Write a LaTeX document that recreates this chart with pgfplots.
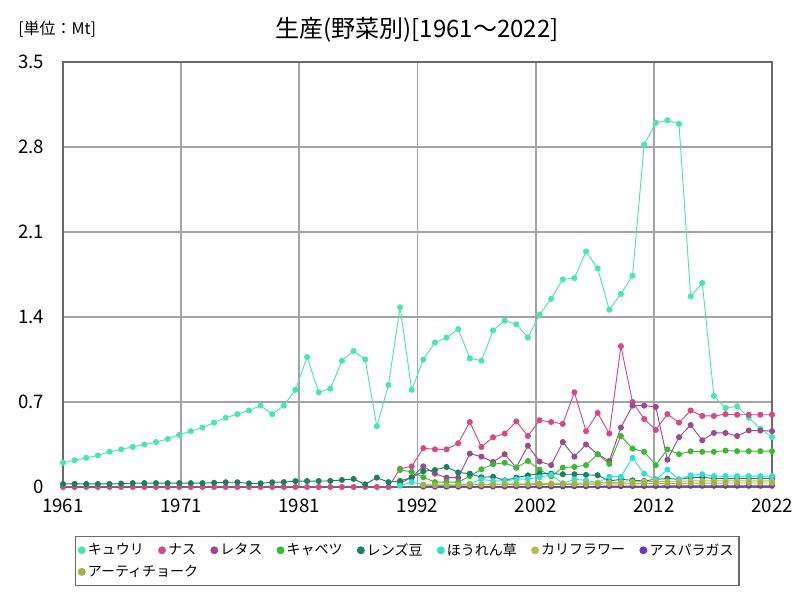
\documentclass[border=0pt]{standalone}
\usepackage{fontspec}
\setmainfont{Noto Sans CJK JP}
\usepackage{pgfplots}
\pgfplotsset{compat=1.18}

\definecolor{cKyuri}{HTML}{48E6B0}
\definecolor{cNasu}{HTML}{D4488C}
\definecolor{cRetasu}{HTML}{9A4A8E}
\definecolor{cKyabetsu}{HTML}{3CB832}
\definecolor{cRenzu}{HTML}{1A8060}
\definecolor{cHoren}{HTML}{30E0D8}
\definecolor{cKarifura}{HTML}{B0BC58}
\definecolor{cAsupara}{HTML}{6A38B8}
\definecolor{cAti}{HTML}{A8B040}
\definecolor{gridgray}{HTML}{A4A4A4}
\definecolor{framegray}{HTML}{6A6A6A}

\begin{document}
\begin{tikzpicture}
\path (0,0) rectangle (600pt,450pt);
\node[anchor=west, inner sep=0pt, font=\fontsize{12}{14}\selectfont] at (13.5pt,428pt) {[単位：Mt]};
\node[inner sep=0pt, font=\fontsize{18}{20}\selectfont] at (312.75pt,428pt) {生産(野菜別)[1961～2022]};
\begin{axis}[
  at={(47.25pt,84.75pt)}, anchor=south west,
  scale only axis, width=531.75pt, height=318.75pt,
  xmin=1961, xmax=2022, ymin=0, ymax=3.5,
  xtick={1961,1971.1667,1981.3333,1991.5,2001.6667,2011.8333,2022},
  xticklabels={1961,1971,1981,1992,2002,2012,2022},
  ytick={0,0.7,1.4,2.1,2.8,3.5},
  yticklabels={0,0.7,1.4,2.1,2.8,3.5},
  /pgf/number format/assume math mode=true,
  ticklabel style={font=\fontsize{14}{16}\selectfont},
  xticklabel style={anchor=north, inner sep=0pt, yshift=-9pt},
  yticklabel style={anchor=east, inner sep=0pt, xshift=-14pt},
  major tick length=0pt,
  grid=major,
  major grid style={gridgray, line width=1.4pt},
  axis line style={framegray, line width=1.6pt},
  every axis plot/.append style={line width=0.7pt, mark=*, mark size=1.9pt},
  legend columns=8,
  legend style={at={(axis description cs:0.0169,-0.1153)}, anchor=north west,
    draw=framegray, line width=1pt, font=\fontsize{10.5}{12}\selectfont,
    inner xsep=2pt, inner ysep=3pt, row sep=2pt,
    /tikz/every even column/.append style={column sep=9pt}},
  legend cell align=left,
  legend image code/.code={\draw[mark size=2.6pt] plot coordinates {(0.08cm,0cm)};},
]
\addplot[cKyuri] coordinates {
(1961,0.20) (1962,0.22) (1963,0.24) (1964,0.26) (1965,0.29) (1966,0.31) (1967,0.33) (1968,0.35)
(1969,0.37) (1970,0.395) (1971,0.43) (1972,0.46) (1973,0.49) (1974,0.53) (1975,0.57) (1976,0.60)
(1977,0.63) (1978,0.67) (1979,0.60) (1980,0.67) (1981,0.80) (1982,1.07) (1983,0.78) (1984,0.81)
(1985,1.04) (1986,1.12) (1987,1.05) (1988,0.50) (1989,0.84) (1990,1.48) (1991,0.80) (1992,1.05)
(1993,1.19) (1994,1.23) (1995,1.30) (1996,1.06) (1997,1.04) (1998,1.29) (1999,1.37) (2000,1.34)
(2001,1.23) (2002,1.42) (2003,1.55) (2004,1.71) (2005,1.72) (2006,1.94) (2007,1.80) (2008,1.46)
(2009,1.59) (2010,1.74) (2011,2.82) (2012,3.00) (2013,3.02) (2014,2.99) (2015,1.57) (2016,1.68)
(2017,0.75) (2018,0.65) (2019,0.665) (2020,0.57) (2021,0.48) (2022,0.41)
};
\addlegendentry{キュウリ}
\addplot[cNasu] coordinates {
(1961,0) (1962,0) (1963,0) (1964,0) (1965,0) (1966,0) (1967,0) (1968,0) (1969,0) (1970,0)
(1971,0) (1972,0) (1973,0) (1974,0) (1975,0) (1976,0) (1977,0) (1978,0) (1979,0) (1980,0)
(1981,0) (1982,0) (1983,0) (1984,0) (1985,0) (1986,0) (1987,0) (1988,0) (1989,0)
(1990,0.15) (1991,0.17) (1992,0.32) (1993,0.31) (1994,0.31) (1995,0.36) (1996,0.535) (1997,0.33)
(1998,0.41) (1999,0.44) (2000,0.54) (2001,0.42) (2002,0.55) (2003,0.535) (2004,0.52) (2005,0.78)
(2006,0.46) (2007,0.61) (2008,0.44) (2009,1.16) (2010,0.70) (2011,0.56) (2012,0.47) (2013,0.60)
(2014,0.53) (2015,0.63) (2016,0.585) (2017,0.585) (2018,0.60) (2019,0.595) (2020,0.595)
(2021,0.595) (2022,0.595)
};
\addlegendentry{ナス}
\addplot[cRetasu] coordinates {
(1990,0.03) (1991,0.08) (1992,0.17) (1993,0.11) (1994,0.077) (1995,0.077) (1996,0.275) (1997,0.25)
(1998,0.206) (1999,0.27) (2000,0.16) (2001,0.34) (2002,0.21) (2003,0.18) (2004,0.37) (2005,0.25)
(2006,0.35) (2007,0.27) (2008,0.214) (2009,0.49) (2010,0.67) (2011,0.67) (2012,0.66) (2013,0.225)
(2014,0.41) (2015,0.51) (2016,0.385) (2017,0.445) (2018,0.445) (2019,0.42) (2020,0.465)
(2021,0.465) (2022,0.46)
};
\addlegendentry{レタス}
\addplot[cKyabetsu] coordinates {
(1990,0.14) (1991,0.125) (1992,0.08) (1993,0.04) (1994,0.04) (1995,0.04) (1996,0.09) (1997,0.146)
(1998,0.187) (1999,0.20) (2000,0.16) (2001,0.214) (2002,0.143) (2003,0.088) (2004,0.16) (2005,0.165)
(2006,0.18) (2007,0.27) (2008,0.19) (2009,0.42) (2010,0.316) (2011,0.29) (2012,0.18) (2013,0.31)
(2014,0.27) (2015,0.294) (2016,0.29) (2017,0.29) (2018,0.30) (2019,0.295) (2020,0.295)
(2021,0.295) (2022,0.295)
};
\addlegendentry{キャベツ}
\addplot[cRenzu] coordinates {
(1961,0.025) (1962,0.025) (1963,0.025) (1964,0.025) (1965,0.025) (1966,0.028) (1967,0.032) (1968,0.032)
(1969,0.032) (1970,0.032) (1971,0.032) (1972,0.032) (1973,0.032) (1974,0.035) (1975,0.039) (1976,0.039)
(1977,0.03) (1978,0.03) (1979,0.039) (1980,0.04) (1981,0.049) (1982,0.049) (1983,0.049) (1984,0.05)
(1985,0.058) (1986,0.066) (1987,0.022) (1988,0.077) (1989,0.04) (1990,0.05) (1991,0.077) (1992,0.13)
(1993,0.14) (1994,0.165) (1995,0.12) (1996,0.11) (1997,0.08) (1998,0.085) (1999,0.055) (2000,0.077)
(2001,0.096) (2002,0.11) (2003,0.11) (2004,0.105) (2005,0.105) (2006,0.10) (2007,0.097) (2008,0.05)
(2009,0.063) (2010,0.055) (2011,0.05) (2012,0.063) (2013,0.07) (2014,0.063) (2015,0.077) (2016,0.08)
(2017,0.07) (2018,0.07) (2019,0.07) (2020,0.07) (2021,0.07) (2022,0.07)
};
\addlegendentry{レンズ豆}
\addplot[cHoren] coordinates {
(1990,0.01) (1991,0.04) (1992,0.02) (1993,0.015) (1994,0.015) (1995,0.015) (1996,0.028) (1997,0.063)
(1998,0.05) (1999,0.05) (2000,0.063) (2001,0.066) (2002,0.08) (2003,0.10) (2004,0.03) (2005,0.063)
(2006,0.055) (2007,0.035) (2008,0.085) (2009,0.085) (2010,0.24) (2011,0.11) (2012,0.06) (2013,0.143)
(2014,0.063) (2015,0.096) (2016,0.105) (2017,0.09) (2018,0.09) (2019,0.09) (2020,0.09) (2021,0.09)
(2022,0.09)
};
\addlegendentry{ほうれん草}
\addplot[cKarifura] coordinates {
(1992,0.01) (1993,0.01) (1994,0.01) (1995,0.012) (1996,0.02) (1997,0.022) (1998,0.024) (1999,0.025)
(2000,0.026) (2001,0.027) (2002,0.03) (2003,0.03) (2004,0.03) (2005,0.032) (2006,0.033) (2007,0.035)
(2008,0.037) (2009,0.04) (2010,0.042) (2011,0.045) (2012,0.045) (2013,0.047) (2014,0.048) (2015,0.05)
(2016,0.05) (2017,0.05) (2018,0.05) (2019,0.05) (2020,0.05) (2021,0.05) (2022,0.05)
};
\addlegendentry{カリフラワー}
\addplot[cAsupara] coordinates {
(1992,0.003) (1993,0.003) (1994,0.003) (1995,0.003) (1996,0.004) (1997,0.004) (1998,0.004) (1999,0.004)
(2000,0.005) (2001,0.005) (2002,0.005) (2003,0.005) (2004,0.005) (2005,0.006) (2006,0.006) (2007,0.006)
(2008,0.007) (2009,0.007) (2010,0.008) (2011,0.008) (2012,0.008) (2013,0.009) (2014,0.009) (2015,0.01)
(2016,0.01) (2017,0.01) (2018,0.01) (2019,0.01) (2020,0.01) (2021,0.01) (2022,0.01)
};
\addlegendentry{アスパラガス}
\addplot[cAti] coordinates {
(1992,0.015) (1993,0.015) (1994,0.015) (1995,0.016) (1996,0.017) (1997,0.018) (1998,0.018) (1999,0.019)
(2000,0.02) (2001,0.02) (2002,0.02) (2003,0.021) (2004,0.022) (2005,0.022) (2006,0.023) (2007,0.024)
(2008,0.025) (2009,0.026) (2010,0.027) (2011,0.028) (2012,0.03) (2013,0.03) (2014,0.03) (2015,0.031)
(2016,0.032) (2017,0.032) (2018,0.033) (2019,0.033) (2020,0.033) (2021,0.033) (2022,0.033)
};
\addlegendentry{\rlap{アーティチョーク}}
\end{axis}
\end{tikzpicture}
\end{document}
